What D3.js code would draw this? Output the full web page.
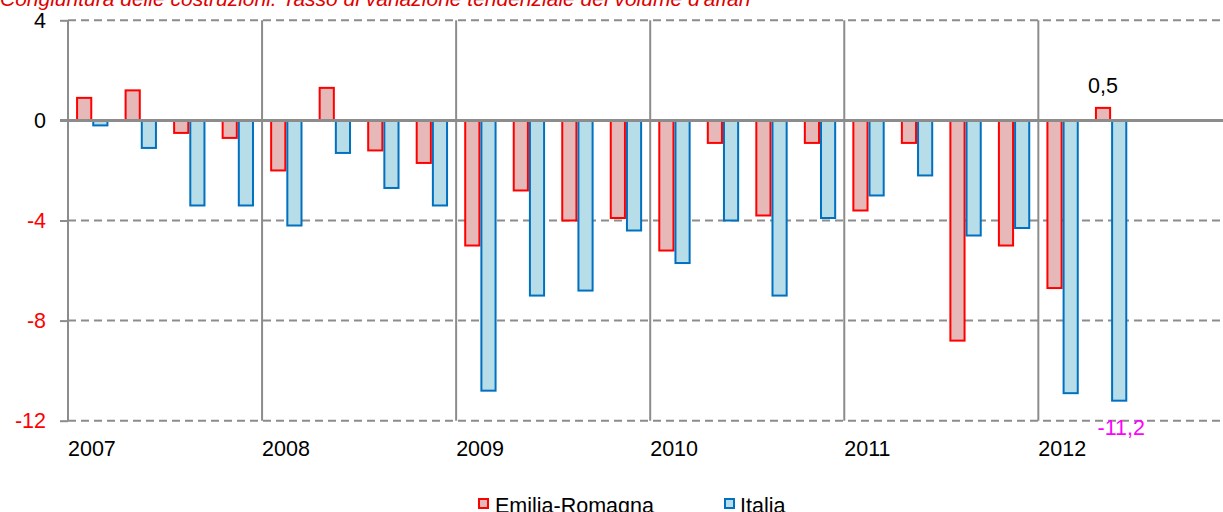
<!DOCTYPE html>
<html>
<head>
<meta charset="utf-8">
<script src="https://cdn.jsdelivr.net/npm/d3@7"></script>
<style>
  html, body { margin: 0; padding: 0; background: #fff; }
  svg { display: block; font-family: "Liberation Sans", Arial, sans-serif; }
</style>
</head>
<body>
<svg id="chart" width="1223" height="512"></svg>
<script>
// Quarterly year-on-year change in construction turnover (%)
const years = ["2007", "2008", "2009", "2010", "2011", "2012"];
const quarters = years.flatMap(y => ["T1", "T2", "T3", "T4"].map(q => y + "-" + q));
const seriesNames = ["Emilia-Romagna", "Italia"];
const emiliaRomagna = [0.9, 1.2, -0.5, -0.7, -2.0, 1.3, -1.2, -1.7, -5.0, -2.8, -4.0, -3.9,
                       -5.2, -0.9, -3.8, -0.9, -3.6, -0.9, -8.8, -5.0, -6.7, 0.5];
const italia = [-0.2, -1.1, -3.4, -3.4, -4.2, -1.3, -2.7, -3.4, -10.8, -7.0, -6.8, -4.4,
                -5.7, -4.0, -7.0, -3.9, -3.0, -2.2, -4.6, -4.3, -10.9, -11.2];
const yTicks = [4, 0, -4, -8, -12];
const title = "Congiuntura delle costruzioni. Tasso di variazione tendenziale del volume d'affari";

const fills = ["#e6b9b8", "#b7dde8"];
const strokes = ["#ff0000", "#0070c0"];
const gridColor = "#8c8c8c";
const fontSize = 21.5;

const svg = d3.select("#chart");
const plotLeft = 68, plotRight = 1232.4, plotTop = 20.3, plotBottom = 420.7;

const x = d3.scaleBand().domain(quarters).range([plotLeft, plotRight]).padding(0);
const xs = d3.scaleBand().domain(seriesNames).range([0, x.bandwidth()])
  .paddingInner(0).paddingOuter(0.5);
const y = d3.scaleLinear().domain([-12, 4]).range([plotBottom, plotTop]);
const xYear = d3.scaleBand().domain(years).range([plotLeft, plotRight]).padding(0);

const fmt = v => d3.format(".1f")(v).replace(".", ",").replace("−", "-");

// title, partly above the frame
svg.append("text")
  .attr("x", 0).attr("y", 6)
  .attr("fill", "#e00000")
  .attr("font-style", "italic")
  .attr("font-size", 21)
  .text(title);

// horizontal dashed gridlines
svg.append("g").selectAll("line")
  .data(yTicks.filter(d => d !== 0))
  .join("line")
  .attr("x1", plotLeft).attr("x2", plotRight)
  .attr("y1", d => y(d)).attr("y2", d => y(d))
  .attr("stroke", gridColor).attr("stroke-width", 2)
  .attr("stroke-dasharray", "8,5");

// y axis with its tick labels
const yAxis = d3.axisLeft(y).tickValues(yTicks).tickSize(8).tickPadding(14)
  .tickFormat(d => d3.format("d")(d).replace("−", "-"));
const gy = svg.append("g").attr("transform", `translate(${plotLeft},0)`).call(yAxis);
gy.select(".domain").remove();
gy.selectAll(".tick line").attr("stroke", gridColor).attr("stroke-width", 2);
gy.selectAll(".tick text")
  .attr("font-size", fontSize)
  .attr("font-family", "'Liberation Sans', Arial, sans-serif")
  .attr("fill", d => d < 0 ? "#ff0000" : "#000");

// year separators and left axis line
svg.append("g").selectAll("line")
  .data(years)
  .join("line")
  .attr("x1", d => xYear(d)).attr("x2", d => xYear(d))
  .attr("y1", plotTop).attr("y2", plotBottom)
  .attr("stroke", gridColor).attr("stroke-width", 2);

// year labels
svg.append("g").selectAll("text")
  .data(years)
  .join("text")
  .attr("x", d => xYear(d))
  .attr("y", 456)
  .attr("font-size", fontSize)
  .attr("fill", "#000")
  .text(d => d);

// bars
const series = [emiliaRomagna, italia];
series.forEach((vals, si) => {
  svg.append("g").selectAll("rect")
    .data(vals.map((v, i) => ({ q: quarters[i], v })))
    .join("rect")
    .attr("x", d => x(d.q) + xs(seriesNames[si]) + 1)
    .attr("width", xs.bandwidth() - 2)
    .attr("y", d => Math.min(y(d.v), y(0)))
    .attr("height", d => Math.abs(y(d.v) - y(0)))
    .attr("fill", fills[si])
    .attr("stroke", strokes[si])
    .attr("stroke-width", 2);
});

// zero line
svg.append("line")
  .attr("x1", plotLeft - 8).attr("x2", plotRight)
  .attr("y1", y(0)).attr("y2", y(0))
  .attr("stroke", gridColor).attr("stroke-width", 3);

// value labels for the latest quarter
const lastEr = emiliaRomagna.length - 1;
svg.append("text")
  .attr("x", x(quarters[lastEr]) + xs(seriesNames[0]) + xs.bandwidth() / 2)
  .attr("y", y(emiliaRomagna[lastEr]) - 15)
  .attr("text-anchor", "middle")
  .attr("font-size", fontSize).attr("fill", "#000")
  .text(fmt(emiliaRomagna[lastEr]));
const lastIt = italia.length - 1;
svg.append("text")
  .attr("x", x(quarters[lastIt]) + xs(seriesNames[1]) + xs.bandwidth() / 2 + 2)
  .attr("y", y(italia[lastIt]) + 34)
  .attr("text-anchor", "middle")
  .attr("font-size", fontSize).attr("fill", "#ff00ff")
  .text(fmt(italia[lastIt]));

// legend
const legendX = [478, 724];
const lg = svg.append("g").selectAll("g")
  .data(seriesNames)
  .join("g")
  .attr("transform", (d, i) => `translate(${legendX[i]},498)`);
lg.append("rect")
  .attr("x", 1).attr("y", 1).attr("width", 9).attr("height", 9)
  .attr("fill", (d, i) => fills[i])
  .attr("stroke", (d, i) => strokes[i]).attr("stroke-width", 2);
lg.append("text")
  .attr("x", (d, i) => i === 0 ? 17 : 16).attr("y", 15)
  .attr("font-size", fontSize).attr("fill", "#000")
  .text(d => d);
</script>
</body>
</html>
